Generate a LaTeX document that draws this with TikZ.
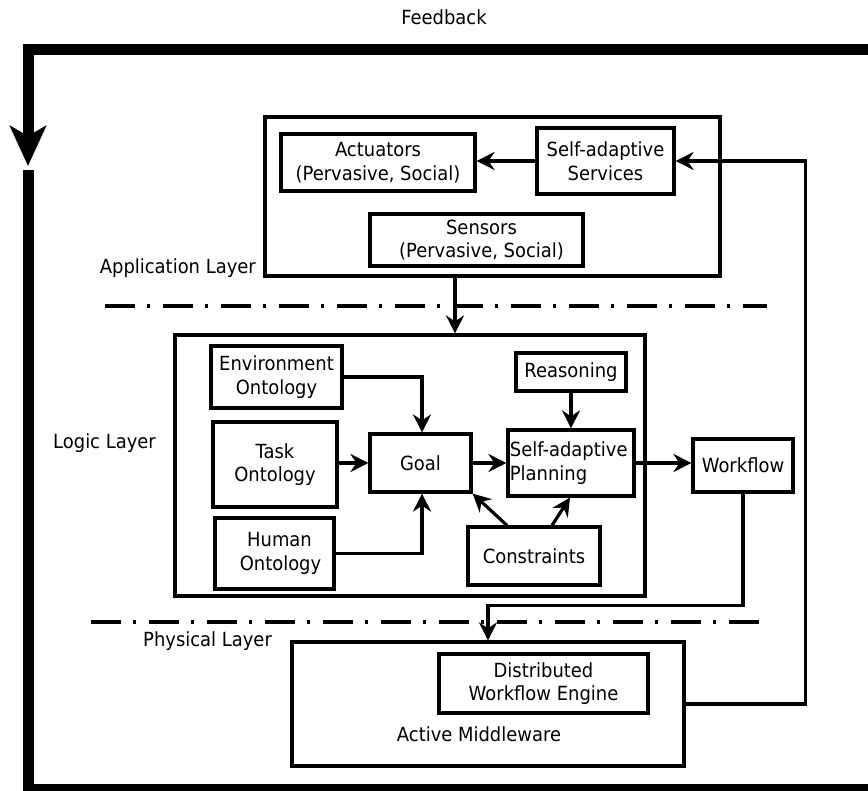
\documentclass[tikz,border=0pt]{standalone}
\usepackage{fontspec}
\setmainfont{DejaVu Sans}[FakeStretch=0.92]
\usetikzlibrary{arrows.meta,calc}
\begin{document}
\begin{tikzpicture}[x=1pt,y=-1pt,
  every node/.style={font=\fontsize{19.5}{23.5}\selectfont},
  box/.style={draw, line width=3.2pt, align=center, inner sep=0pt},
  lbl/.style={inner sep=0pt},
  arr/.style={line width=3.2pt, -{Stealth[length=18pt,width=18pt,inset=6pt]}},
  sep/.style={line width=3.2pt, dash pattern=on 30pt off 12pt on 3pt off 13pt},
  frame/.style={line width=11pt}
]
\useasboundingbox (0,0) rectangle (868,791);
\fill[white] (0,0) rectangle (868,791);

% feedback frame
\node[lbl] (fb) at (444,17) {Feedback};
\draw[frame, -{Stealth[length=40pt,width=36pt,inset=10pt]}] (885,49.5) -- (28,49.5) -- (28,166);
\draw[frame] (28,170) -- (28,789) -- (885,789);

% layer separators
\draw[sep] (105,306) -- (767,306);
\draw[sep] (91,622) -- (764,622);

% layer labels
\node[lbl, anchor=east] (applbl) at (256,268) {Application Layer};
\node[lbl, anchor=west] (loglbl) at (53,443) {Logic Layer};
\node[lbl, anchor=west] (phylbl) at (143,641) {Physical Layer};

% application layer
\node[box, minimum width=455pt, minimum height=159pt] (app) at (492.5,196.5) {};
\node[box, minimum width=194pt, minimum height=57pt] (act) at (378,162.5) {Actuators\\(Pervasive, Social)};
\node[box, minimum width=137pt, minimum height=66pt] (svc) at (605.5,161) {Self-adaptive\\Services};
\node[box, minimum width=213pt, minimum height=52pt] (sen) at (476.5,240) {\hspace*{10pt}Sensors\\\hspace*{10pt}(Pervasive, Social)};

% logic layer
\node[box, minimum width=470pt, minimum height=261pt] (logic) at (410,465.5) {};
\node[box, minimum width=131pt, minimum height=62pt] (env) at (276.5,377) {Environment\\Ontology};
\node[box, minimum width=124pt, minimum height=85pt] (task) at (275,464.5) {Task\\Ontology};
\node[box, minimum width=119pt, minimum height=71pt] (human) at (274.5,553.5) {\hspace*{10pt}Human\\\hspace*{12pt}Ontology};
\node[box, minimum width=101pt, minimum height=58pt] (goal) at (420.5,463) {Goal};
\node[box, minimum width=110pt, minimum height=38pt] (reas) at (571,372) {Reasoning};
\node[box, minimum width=126pt, minimum height=66pt, align=left] (plan) at (571,463) {Self-adaptive\\Planning\hspace*{45pt}};
\node[box, minimum width=132pt, minimum height=58pt] (cons) at (534,556) {Constraints};
\node[box, minimum width=100pt, minimum height=53pt] (wf) at (743,465.5) {Workflow};

% physical layer
\node[box, minimum width=392pt, minimum height=124pt] (mw) at (488,704) {};
\node[box, minimum width=209pt, minimum height=59pt] (dwe) at (543.5,683.5) {Distributed\\Workflow Engine};
\node[lbl] (amw) at (479,734) {Active Middleware};

% connectors
\coordinate (c1) at (455,0);
\draw[arr] (svc.west) -- (act.east |- svc.west);
\draw[arr] (mw.east) -- ++(120,0) |- (svc.east);
\draw[arr] (c1 |- app.south) -- (c1 |- logic.north);
\draw[arr] (env.east) -| ([xshift=1.5pt]goal.north);
\draw[arr] (task.east |- goal.west) -- (goal.west);
\draw[arr] (human.east) -| ([xshift=1.5pt]goal.south);
\draw[arr] (goal.east) -- (plan.west);
\draw[arr] (reas.south) -- (plan.north);
\draw[arr] ([xshift=-27pt]cons.north) -- (goal.south east);
\draw[arr] ([xshift=18pt]cons.north) -- ([xshift=-1pt]plan.south);
\draw[arr] (plan.east) -- (wf.west |- plan.east);
\draw[arr] (wf.south) -- ++(0,112) -| (mw.north);
\end{tikzpicture}
\end{document}
